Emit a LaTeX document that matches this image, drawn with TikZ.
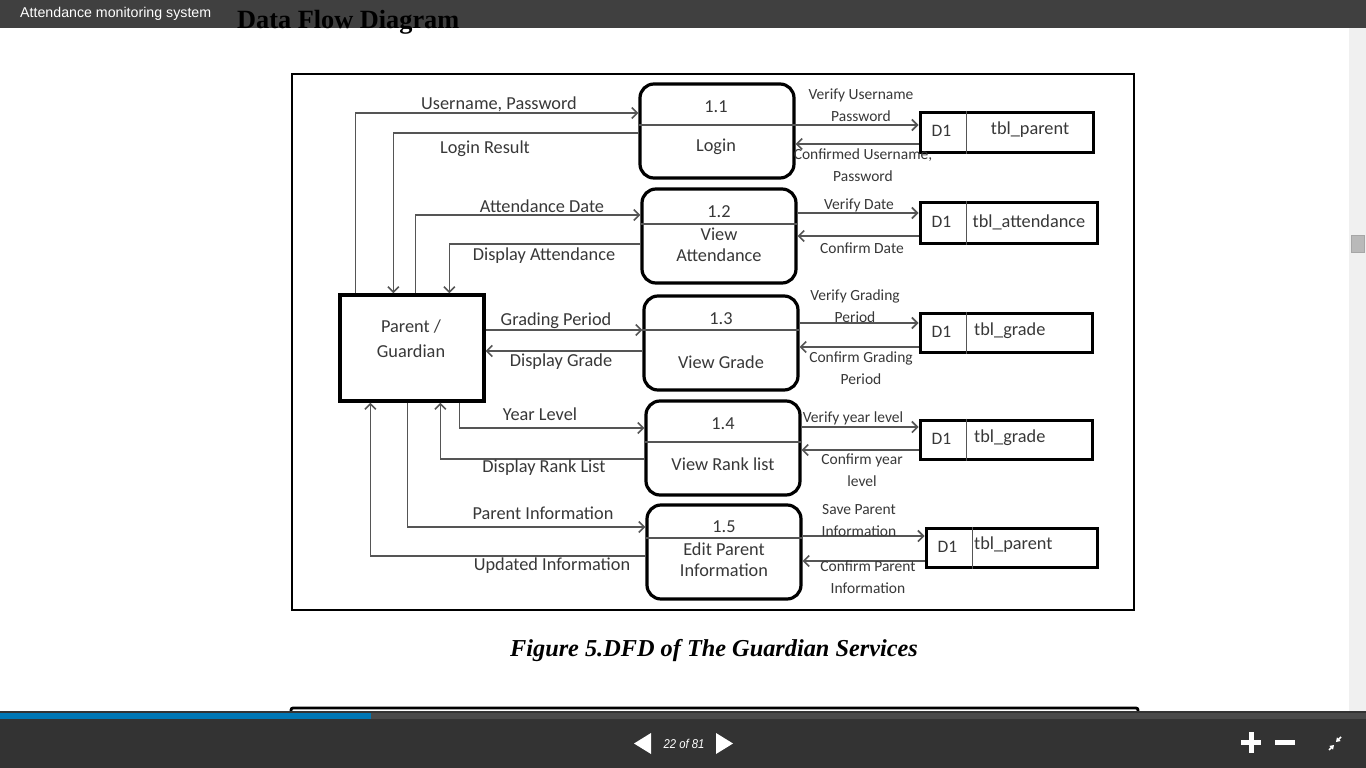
\documentclass[tikz,border=0pt]{standalone}
\usepackage{fontspec}
\setmainfont{Carlito}
\newfontfamily\arialfont{Liberation Sans}
\newfontfamily\timesfont{Liberation Serif}
\usetikzlibrary{arrows.meta}

\definecolor{barGray}{HTML}{404040}
\definecolor{footGray}{HTML}{333333}
\definecolor{trackGray}{HTML}{4A4A4A}
\definecolor{progBlue}{HTML}{0077B5}
\definecolor{flowGray}{HTML}{555555}
\definecolor{textGray}{HTML}{383838}
\definecolor{scrollGray}{HTML}{F0F0F0}

\tikzset{
  proc/.style={draw=black, line width=3.2pt, rounded corners=14pt, minimum width=154pt, minimum height=94pt, inner sep=0pt},
  store/.style={draw=black, line width=3pt, inner sep=0pt},
  entity/.style={draw=black, line width=3.3pt, minimum width=144pt, minimum height=106pt, inner sep=0pt},
  divider/.style={draw=flowGray, line width=1.4pt},
  flow/.style={draw=flowGray, line width=1.6pt, -{Straight Barb[length=5.5pt,width=11pt]}},
  lbl/.style={text=textGray, font=\fontsize{18.3}{21}\selectfont, inner sep=0pt, align=center},
  small/.style={text=textGray, font=\fontsize{15.5}{22}\selectfont, inner sep=0pt, align=center},
}

\begin{document}
\begin{tikzpicture}[x=1pt,y=-1pt]
\useasboundingbox (0,0) rectangle (1366,768);
%page, bars and scroll
\fill[white] (0,0) rectangle (1366,768);
\fill[scrollGray] (1349,28) rectangle (1366,712);
\filldraw[fill=gray!55, draw=gray!70] (1351,235) rectangle (1364,252);
\draw[line width=2.8pt, rounded corners=2pt] (291,730) -- (291,708) -- (1138,708) -- (1138,730);
\fill[barGray] (0,0) rectangle (1366,28);
\fill[footGray] (0,711) rectangle (1366,768);
\fill[trackGray] (0,713) rectangle (1366,719);
\fill[progBlue] (0,713) rectangle (371,719);

\node[anchor=west, text=white, inner sep=0pt, font=\arialfont\fontsize{14.2}{16}\selectfont] (app) at (20,14) {Attendance monitoring system};
\node[anchor=west, font=\timesfont\bfseries\fontsize{26.3}{28}\selectfont, inner sep=0pt] (head) at (237,22) {Data Flow Diagram};

%footer controls
\fill[white] (634,743.5) -- (651,733) -- (651,754) -- cycle;
\fill[white] (733,743.5) -- (716,733) -- (716,754) -- cycle;
\node[text=white, font=\arialfont\itshape\fontsize{12.8}{14}\selectfont, xscale=0.88] (pg) at (684,744) {22 of 81};
\fill[white] (1241,739.5) rectangle (1261,745);
\fill[white] (1248.5,732) rectangle (1254,752.5);
\fill[white] (1275,739.5) rectangle (1295,745);
\draw[white, line width=1.6pt, -{Triangle[length=4pt,width=5pt]}] (1341,737) -- (1336,742);
\draw[white, line width=1.6pt, -{Triangle[length=4pt,width=5pt]}] (1329,750) -- (1334,745);

%diagram frame and caption
\draw[line width=2.8pt] (292,74) rectangle (1134,610);
\node[font=\timesfont\bfseries\itshape\fontsize{24.3}{26}\selectfont] (cap) at (714,651) {Figure 5.DFD of The Guardian Services};

\begin{scope}
    \node[entity] (pg) at (412,348) {};
    \node[lbl, font=\fontsize{18.3}{25}\selectfont] (pgt) at (411,338.5) {Parent /\\Guardian};

    \node[proc] (p1) at (717,131) {};
    \node[proc] (p2) at (719,236) {};
    \node[proc] (p3) at (721,343) {};
    \node[proc] (p4) at (723,448) {};
    \node[proc] (p5) at (724,552) {};

    \node[lbl] (n1) at (716,107) {1.1};
    \node[lbl] (t1) at (716,147) {Login};
    \node[lbl] (n2) at (719,212) {1.2};
    \node[lbl] (t2) at (719,244.5) {View\\Attendance};
    \node[lbl] (n3) at (721,319) {1.3};
    \node[lbl] (t3) at (721,362) {View Grade};
    \node[lbl] (n4) at (723,424) {1.4};
    \node[lbl] (t4) at (723,464) {View Rank list};
    \node[lbl] (n5) at (724,527) {1.5};
    \node[lbl] (t5) at (724,559.5) {Edit Parent\\Information};

    \node[store, minimum width=173pt, minimum height=40pt] (d1) at (1006.5,132) {};
    \node[store, minimum width=177pt, minimum height=41pt] (d2) at (1008.5,222.5) {};
    \node[store, minimum width=172pt, minimum height=39pt] (d3) at (1006,332.5) {};
    \node[store, minimum width=172pt, minimum height=39pt] (d4) at (1006,439.5) {};
    \node[store, minimum width=171pt, minimum height=39pt] (d5) at (1011.5,547.5) {};

    \node[lbl] (s1) at (1030,130) {tbl\_parent};
    \node[lbl] (s2) at (1029,222) {tbl\_attendance};
    \node[lbl, anchor=west] (s3) at (974,331) {tbl\_grade};
    \node[lbl, anchor=west] (s4) at (974,438) {tbl\_grade};
    \node[lbl, anchor=west] (s5) at (974,545) {tbl\_parent};
\end{scope}

\foreach \d in {d1,d2,d3,d4,d5}{
    \draw[divider] ([xshift=48pt]\d.north west) -- ([xshift=48pt]\d.south west);
    \node[lbl, font=\fontsize{17.5}{19}\selectfont] at ([xshift=23pt,yshift=1pt]\d.west) {D1};
}

\draw[divider] ([yshift=6pt]p1.west) -- ([yshift=6pt]p1.east);
\draw[divider] ([yshift=12pt]p2.west) -- ([yshift=12pt]p2.east);
\draw[divider] ([yshift=13pt]p3.west) -- ([yshift=13pt]p3.east);
\draw[divider] ([yshift=6pt]p4.west) -- ([yshift=6pt]p4.east);
\draw[divider] ([yshift=14pt]p5.west) -- ([yshift=14pt]p5.east);

\begin{scope}
    \draw[flow] ([xshift=17pt]pg.north west) |- ([yshift=18pt]p1.west);
    \draw[flow] ([yshift=-2pt]p1.west) -| ([xshift=55pt]pg.north west);
    \draw[flow] ([xshift=77pt]pg.north west) |- ([yshift=21pt]p2.west);
    \draw[flow] ([yshift=-8pt]p2.west) -| ([xshift=111pt]pg.north west);
    \draw[flow] ([yshift=18pt]pg.east) -- ([yshift=13pt]p3.west);
    \draw[flow] ([yshift=-8pt]p3.west) -- ([yshift=-3pt]pg.east);
    \draw[flow] ([xshift=121pt]pg.south west) |- ([yshift=20pt]p4.west);
    \draw[flow] ([yshift=-11pt]p4.west) -| ([xshift=102pt]pg.south west);
    \draw[flow] ([xshift=69pt]pg.south west) |- ([yshift=25pt]p5.west);
    \draw[flow] ([yshift=-4pt]p5.west) -| ([xshift=32pt]pg.south west);

    \draw[flow] ([yshift=6pt]p1.east) -- ([yshift=7pt]d1.west);
    \draw[flow] ([yshift=-12pt]d1.west) -- ([yshift=-13pt]p1.east);
    \draw[flow] ([yshift=23pt]p2.east) -- ([yshift=9.5pt]d2.west);
    \draw[flow] ([yshift=-13.5pt]d2.west) -- (p2.east);
    \draw[flow] ([yshift=20pt]p3.east) -- ([yshift=9.5pt]d3.west);
    \draw[flow] ([yshift=-14.5pt]d3.west) -- ([yshift=-4pt]p3.east);
    \draw[flow] ([yshift=21pt]p4.east) -- ([yshift=12.5pt]d4.west);
    \draw[flow] ([yshift=-10.5pt]d4.west) -- ([yshift=-2pt]p4.east);
    \draw[flow] ([yshift=16pt]p5.east) -- ([yshift=11.5pt]d5.west);
    \draw[flow] ([yshift=-13.5pt]d5.west) -- ([yshift=-9pt]p5.east);
\end{scope}

\begin{scope}
    \node[lbl] (f1) at (499,104) {Username, Password};
    \node[lbl] (f2) at (485,149) {Login Result};
    \node[lbl] (f3) at (542,206) {Attendance Date};
    \node[lbl] (f4) at (544,256) {Display Attendance};
    \node[lbl] (f5) at (556,321) {Grading Period};
    \node[lbl] (f6) at (561,362) {Display Grade};
    \node[lbl] (f7) at (540,414) {Year Level};
    \node[lbl] (f8) at (544,468) {Display Rank List};
    \node[lbl] (f9) at (543,513) {Parent Information};
    \node[lbl] (f10) at (552,566) {Updated Information};

    \node[small] (g1) at (861,105.5) {Verify Username\\Password};
    \node[small] (g2) at (863,165.5) {Confirmed Username,\\Password};
    \node[small] (g3) at (859,205) {Verify Date};
    \node[small] (g4) at (862,248) {Confirm Date};
    \node[small] (g5) at (855,306.5) {Verify Grading\\Period};
    \node[small] (g6) at (861,368.5) {Confirm Grading\\Period};
    \node[small] (g7) at (853,418) {Verify year level};
    \node[small] (g8) at (862,470) {Confirm year\\level};
    \node[small] (g9) at (859,520.5) {Save Parent\\Information};
    \node[small] (g10) at (868,577.5) {Confirm Parent\\Information};
\end{scope}
\end{tikzpicture}
\end{document}
